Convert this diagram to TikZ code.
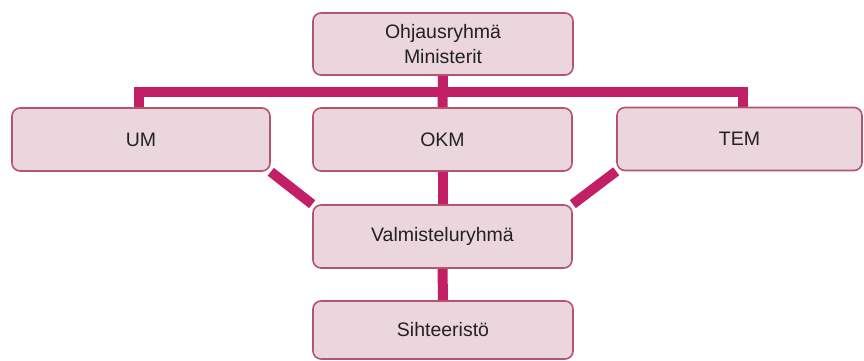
\documentclass[tikz,border=0pt]{standalone}
\usepackage{fontspec}
\setmainfont{Liberation Sans}
\usetikzlibrary{backgrounds,calc}
\definecolor{boxfill}{HTML}{EBD6DD}
\definecolor{boxline}{HTML}{B4546F}
\definecolor{conn}{HTML}{C21F66}
\definecolor{txt}{HTML}{222222}
\tikzset{
  orgbox/.style={draw=boxline, line width=1.6pt, fill=boxfill, rounded corners=8pt,
    minimum height=62pt, inner sep=0pt, align=center, text=txt,
    font=\fontsize{19.5}{24.5}\selectfont},
  link/.style={draw=conn, line width=10pt}
}
\begin{document}
\begin{tikzpicture}[x=1pt,y=-1pt]
\useasboundingbox (0,0) rectangle (864,361);
\node[orgbox, minimum width=260pt] (top) at (443,44) {Ohjausryhmä\\Ministerit};
\node[orgbox, minimum width=258pt, minimum height=63pt] (um) at (141,139.5) {UM};
\node[orgbox, minimum width=259pt, minimum height=63pt] (okm) at (442.5,139.5) {OKM};
\node[orgbox, minimum width=245pt, minimum height=63pt] (tem) at (739.5,139) {TEM};
\node[orgbox, minimum width=259pt, minimum height=63pt] (valm) at (442.5,236.5) {Valmisteluryhmä};
\node[orgbox, minimum width=260pt, minimum height=58pt] (sih) at (443,330) {Sihteeristö};
\begin{scope}[on background layer]
  \coordinate (bar) at ($(top.south)!0.5!(okm.north)$);
  \draw[link] (top.south) -- (okm.north);
  \draw[link] ([xshift=-2pt]um.north) |- (bar) -| ([xshift=3pt]tem.north);
  \draw[link] (um.south east) -- (valm.north west);
  \draw[link] (okm.south) -- (valm.north);
  \draw[link] (tem.south west) -- (valm.north east);
  \draw[link] (valm.south) -- (sih.north);
\end{scope}
\end{tikzpicture}
\end{document}
